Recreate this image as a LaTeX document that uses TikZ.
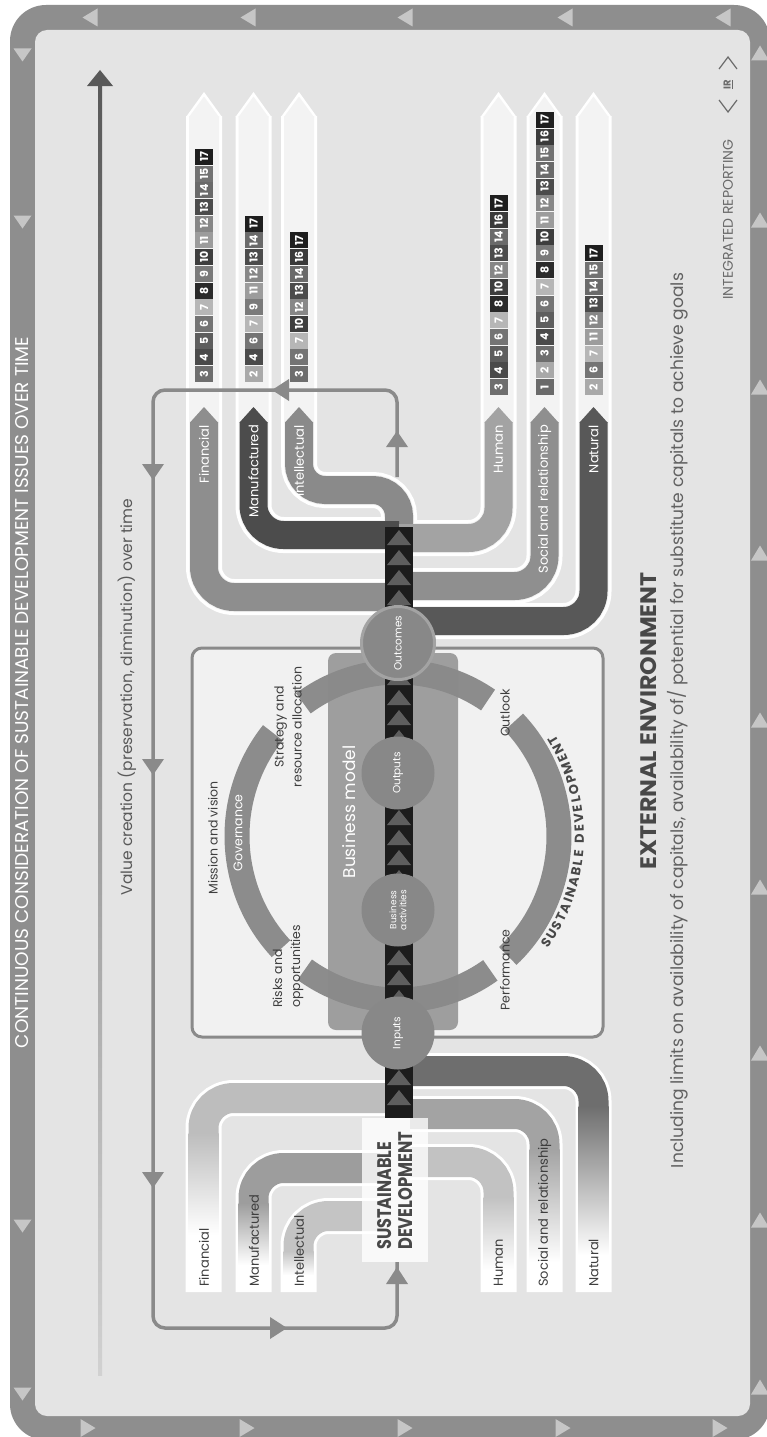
\documentclass[tikz,border=0pt]{standalone}
\usepackage{fontspec}
\setmainfont{Poppins}
\usepackage{graphicx}
\usetikzlibrary{calc}

\definecolor{bgc}{HTML}{E4E4E4}
\definecolor{framec}{HTML}{8E8E8E}
\definecolor{frtri}{HTML}{C6C6C6}
\definecolor{loopc}{HTML}{8A8A8A}
\definecolor{txtc}{HTML}{3E3E3E}
\definecolor{ringc}{HTML}{8C8C8C}
\definecolor{boxfill}{HTML}{F1F1F1}
\definecolor{boxline}{HTML}{8A8A8A}
\definecolor{spinec}{HTML}{1C1C1C}
\definecolor{spinetri}{HTML}{5E5E5E}
\definecolor{circc}{HTML}{888888}
\definecolor{trackc}{HTML}{F3F3F3}
\definecolor{sdtxt}{HTML}{484848}
\definecolor{irc}{HTML}{6A6A6A}
% output capital colours
\definecolor{oFin}{HTML}{8E8E8E}
\definecolor{oMan}{HTML}{4C4C4C}
\definecolor{oInt}{HTML}{8A8A8A}
\definecolor{oHum}{HTML}{A3A3A3}
\definecolor{oSoc}{HTML}{8F8F8F}
\definecolor{oNat}{HTML}{585858}
% input capital colours
\definecolor{iFin}{HTML}{BDBDBD}
\definecolor{iMan}{HTML}{9D9D9D}
\definecolor{iInt}{HTML}{C4C4C4}
\definecolor{iHum}{HTML}{C2C2C2}
\definecolor{iSoc}{HTML}{A3A3A3}
\definecolor{iNat}{HTML}{6E6E6E}
% SDG greys
\definecolor{s1}{HTML}{6A6A6A}
\definecolor{s2}{HTML}{A9A9A9}
\definecolor{s3}{HTML}{6E6E6E}
\definecolor{s4}{HTML}{4A4A4A}
\definecolor{s5}{HTML}{5E5E5E}
\definecolor{s6}{HTML}{747474}
\definecolor{s7}{HTML}{B6B6B6}
\definecolor{s8}{HTML}{2A2A2A}
\definecolor{s9}{HTML}{7A7A7A}
\definecolor{s10}{HTML}{3E3E3E}
\definecolor{s11}{HTML}{9C9C9C}
\definecolor{s12}{HTML}{878787}
\definecolor{s13}{HTML}{4C4C4C}
\definecolor{s14}{HTML}{6A6A6A}
\definecolor{s15}{HTML}{727272}
\definecolor{s16}{HTML}{3A3A3A}
\definecolor{s17}{HTML}{1E1E1E}

\newcommand{\fsz}[2]{\fontsize{#1}{#2}\selectfont}

% input band: x_end, y_h, x_c, colour, shade end
\newcommand{\inband}[5]{%
  \draw[white, line width=36, rounded corners=30] (#1,#2) -- (#3,#2) -- (#3,1292);
  \draw[#4, line width=30, rounded corners=30] (#1,#2) -- (#3,#2) -- (#3,#2+36);
  \shade[top color=#4, bottom color=white] (#3-15,#2+35) rectangle (#3+15,#5);
}

% SDG column: x, bottom, list
\newcommand{\sdgcol}[3]{%
  \foreach \n [count=\i from 0] in {#3} {
    \pgfmathsetmacro{\yb}{#2-\i*16.7}
    \fill[s\n] (#1-9,\yb-16) rectangle (#1+9,\yb);
    \node[rotate=90, inner sep=0pt, text=white, font=\fsz{11}{11}\bfseries] at (#1,\yb-8) {\n};
  }%
}

\begin{document}
\begin{tikzpicture}[x=1pt,y=-1pt,
  lab/.style={rotate=90, inner sep=0pt},
  ringlab/.style={rotate=90, inner sep=0pt, text=txtc, font=\fsz{12.5}{18}},
  caplab/.style={rotate=90, inner sep=0pt, font=\fsz{13}{14}},
  circlab/.style={circle, rotate=90, fill=circc, minimum size=73pt, inner sep=0pt, text=white, align=center},
  arcchar/.style={anchor=base, inner sep=0pt, text=sdtxt, font=\fsz{13}{14}\bfseries}
]
\useasboundingbox (0,0) rectangle (767,1437);
\clip (0,0) rectangle (767,1437);
\fill[white] (0,0) rectangle (767,1437);

% ---------- frame ----------
\fill[framec, rounded corners=36] (10,5) rectangle (770,1440);
\fill[bgc, rounded corners=12] (35,30) rectangle (750,1416);
\foreach \y in {55,222,1226,1394}
  \fill[frtri] (13.5,\y-6.5) -- (31.5,\y-6.5) -- (22.5,\y+6.5) -- cycle;
\foreach \x in {90,248,405,565,723}
  \fill[frtri] (\x-7.5,17.5) -- (\x+7.5,8.5) -- (\x+7.5,26.5) -- cycle;
\foreach \x in {88,247,405,563,720}
  \fill[frtri] (\x+7.5,1428) -- (\x-7.5,1419) -- (\x-7.5,1437) -- cycle;
\foreach \y in {53,220,387,553,720,887,1053,1220,1387}
  \fill[frtri] (760,\y-7.5) -- (751,\y+7.5) -- (769,\y+7.5) -- cycle;

\node[lab, text=white] (header) at (22.5,692.5)
  {\resizebox{711pt}{!}{CONTINUOUS CONSIDERATION OF SUSTAINABLE DEVELOPMENT ISSUES OVER TIME}};

% ---------- time arrow ----------
\shade[top color=black!65, bottom color=black!18] (98,84) rectangle (102,1375);
\fill[black!65] (87,86) -- (100,70) -- (113,86) -- cycle;
\node[lab, text=black!65, font=\fsz{15.5}{17}] (valuetxt) at (127,697)
  {Value creation (preservation, diminution) over time};

% ---------- governance box and ring ----------
\draw[boxline, line width=3, fill=boxfill, rounded corners=10] (192,648) rectangle (603,1037);
\coordinate (rc) at (398,836);
\foreach \a/\b in {136.6/219, 234/304, 316/407, 55/125.4}
  \draw[ringc, line width=25] ($(rc)+(\a:161 and 164)$) arc[start angle=\a, end angle=\b, x radius=161, y radius=164];

% business model box
\fill[black!46, opacity=0.8, rounded corners=8] (328,653) rectangle (458,1030);
\node[lab, text=white, font=\fsz{17}{20}] (bm) at (349,812) {Business model};

% ---------- output bands ----------
\foreach \xc/\yh in {204/597,253.5/535,498.5/538,544.5/586,593.5/621} {
  \draw[white, line width=36, rounded corners=30] (399,\yh) -- (\xc,\yh) -- (\xc,116);
  \fill[white] (\xc-18,117) -- (\xc,92) -- (\xc+18,117) -- cycle;
}
\draw[white, line width=36, rounded corners=26] (399,545) -- (399,490) -- (299,490) -- (299,116);
\fill[white] (281,117) -- (299,92) -- (317,117) -- cycle;
\foreach \xc/\yh in {204/597,253.5/535,498.5/538,544.5/586,593.5/621} {
  \draw[trackc, line width=30, rounded corners=30] (399,\yh) -- (\xc,\yh) -- (\xc,116);
  \fill[trackc] (\xc-15,117) -- (\xc,96.5) -- (\xc+15,117) -- cycle;
}
\draw[trackc, line width=30, rounded corners=26] (399,545) -- (399,490) -- (299,490) -- (299,116);
\fill[trackc] (284,117) -- (299,96.5) -- (314,117) -- cycle;

\draw[oInt, line width=28, rounded corners=26] (399,545) -- (399,490) -- (299,490) -- (299,422);
\fill[oInt] (285,422.5) -- (299,407) -- (313,422.5) -- cycle;
\foreach \xc/\yh/\col in {204/597/oFin,253.5/535/oMan,498.5/538/oHum,544.5/586/oSoc,593.5/621/oNat} {
  \draw[\col, line width=28, rounded corners=30] (399,\yh) -- (\xc,\yh) -- (\xc,422);
  \fill[\col] (\xc-14,422.5) -- (\xc,407) -- (\xc+14,422.5) -- cycle;
}
\node[caplab, anchor=east, text=white] (oFinL) at (204,425) {Financial};
\node[caplab, anchor=east, text=white] (oManL) at (253.5,425) {Manufactured};
\node[caplab, anchor=east, text=white] (oIntL) at (299,425) {Intellectual};
\node[caplab, anchor=east, text=white] (oHumL) at (498.5,425) {Human};
\node[caplab, anchor=east, text=white] (oSocL) at (544.5,425) {Social and relationship};
\node[caplab, anchor=east, text=white] (oNatL) at (593.5,425) {Natural};

% SDG numbers
\sdgcol{204}{382}{3,4,5,6,7,8,9,10,11,12,13,14,15,17}
\sdgcol{253.5}{382}{2,4,6,7,9,11,12,13,14,17}
\sdgcol{299}{382}{3,6,7,10,12,13,14,16,17}
\sdgcol{498.5}{395}{3,4,5,6,7,8,10,12,13,14,16,17}
\sdgcol{544.5}{395}{1,2,3,4,5,6,7,8,9,10,11,12,13,14,15,16,17}
\sdgcol{593.5}{395}{2,6,7,11,12,13,14,15,17}

% ---------- input bands ----------
\inband{398}{1098}{203.5}{iFin}{1235}
\inband{380}{1168}{253.5}{iMan}{1265}
\inband{380}{1216}{298.5}{iInt}{1275}
\inband{398}{1071}{593.5}{iNat}{1255}
\inband{410}{1114}{544.5}{iSoc}{1262}
\inband{410}{1162}{498.5}{iHum}{1270}
\node[caplab, anchor=west, text=txtc] (iFinL) at (204,1287) {Financial};
\node[caplab, anchor=west, text=txtc] (iManL) at (254,1287) {Manufactured};
\node[caplab, anchor=west, text=txtc] (iIntL) at (299,1287) {Intellectual};
\node[caplab, anchor=west, text=txtc] (iHumL) at (498.5,1287) {Human};
\node[caplab, anchor=west, text=txtc] (iSocL) at (544.5,1287) {Social and relationship};
\node[caplab, anchor=west, text=txtc] (iNatL) at (593.5,1287) {Natural};

% ---------- spine ----------
\fill[spinec] (385,527) rectangle (413,1118);
\foreach \y in {530,550,...,1090}
  \fill[spinetri] (387,\y+15) -- (399,\y) -- (411,\y+15) -- cycle;

% circles
\node[circlab, draw=black!36, line width=3, font=\fsz{10.5}{12}] (outcomes) at (398,643) {Outcomes};
\node[circlab, font=\fsz{10.5}{12}] (outputs) at (398,773) {Outputs};
\node[circlab, font=\fsz{9}{10}] (activities) at (398,910) {Business\\activities};
\node[circlab, font=\fsz{10.5}{12}] (inputs) at (398,1033) {Inputs};

% sustainable development box
\fill[white, opacity=0.78] (362,1118) rectangle (428,1262);
\node[lab, anchor=west, text=sdtxt] (sd1) at (384.5,1250) {\resizebox{108pt}{14pt}{\bfseries SUSTAINABLE}};
\node[lab, anchor=west, text=sdtxt] (sd2) at (405.5,1250) {\resizebox{118pt}{14pt}{\bfseries DEVELOPMENT}};

% ---------- ring labels ----------
\node[ringlab] (mission) at (213,838) {Mission and vision};
\node[ringlab, text=white] (gov) at (238,833) {Governance};
\node[ringlab, align=center] (strategy) at (288,727) {Strategy and\\resource allocation};
\node[ringlab, align=left, anchor=west] (risks) at (288,1008) {Risks and\\opportunities};
\node[ringlab] (outlook) at (505,713) {Outlook};
\node[ringlab] (perf) at (505,970) {Performance};

% curved "SUSTAINABLE DEVELOPMENT", one letter at a time along the ring
\gdef\sdacc{0}
\foreach \c/\w in {S/60,U/70,S/60,T/59,A/72,I/29,N/74,A/72,B/68,L/54,E/59,{}/26,D/72,E/59,V/69,E/59,L/54,O/78,P/65,M/88,E/59,N/74,T/59} {
  \pgfmathsetmacro{\sdt}{36.5-(\sdacc+\w/2)*0.04048}
  \pgfmathsetmacro{\sdr}{atan2(189*cos(\sdt),186*sin(\sdt))}
  \node[arcchar, rotate=\sdr] at ($(rc)+(\sdt:186 and 189)$) {\c};
  \pgfmathsetmacro{\sdn}{\sdacc+\w+12}
  \global\let\sdacc\sdn
}

% ---------- loop connector ----------
\coordinate (lpA) at (397,477);
\coordinate (lpB) at (397,1262);
\draw[loopc, line width=3.5, rounded corners=12] (lpA) -- (397,390) -- (153,390) -- (153,1328) -- (397,1328) -- (lpB);
\fill[loopc] (272,390) -- (289,379) -- (289,401) -- cycle;
\foreach \y in {472,767,1180}
  \fill[loopc] (142,\y-8) -- (164,\y-8) -- (153,\y+8) -- cycle;
\fill[loopc] (287,1328) -- (270,1317) -- (270,1339) -- cycle;
\fill[loopc] (397,1267) -- (386,1284) -- (408,1284) -- cycle;
\fill[loopc] (397,431) -- (386,447) -- (408,447) -- cycle;

% ---------- external environment ----------
\node[lab, text=sdtxt] (ee) at (648.5,721) {\resizebox{297pt}{16pt}{\bfseries EXTERNAL ENVIRONMENT}};
\node[lab, text=black!62] (eesub) at (678,720.5)
  {\resizebox{895pt}{!}{Including limits on availability of capitals, availability of/ potential for substitute capitals to achieve goals}};

% ---------- IR logo ----------
\node[lab, anchor=west, text=irc, font=\fsz{14}{15}] (irtxt) at (728,300) {INTEGRATED REPORTING};
\draw[irc, line width=1.2] (719,100) -- (728,112) -- (737,100);
\draw[irc, line width=1.2] (719,69) -- (728,57) -- (737,69);
\node[lab, text=irc, font=\fsz{10}{11}\bfseries] (irlogo) at (728,84.5) {\underline{IR}};
\end{tikzpicture}
\end{document}
